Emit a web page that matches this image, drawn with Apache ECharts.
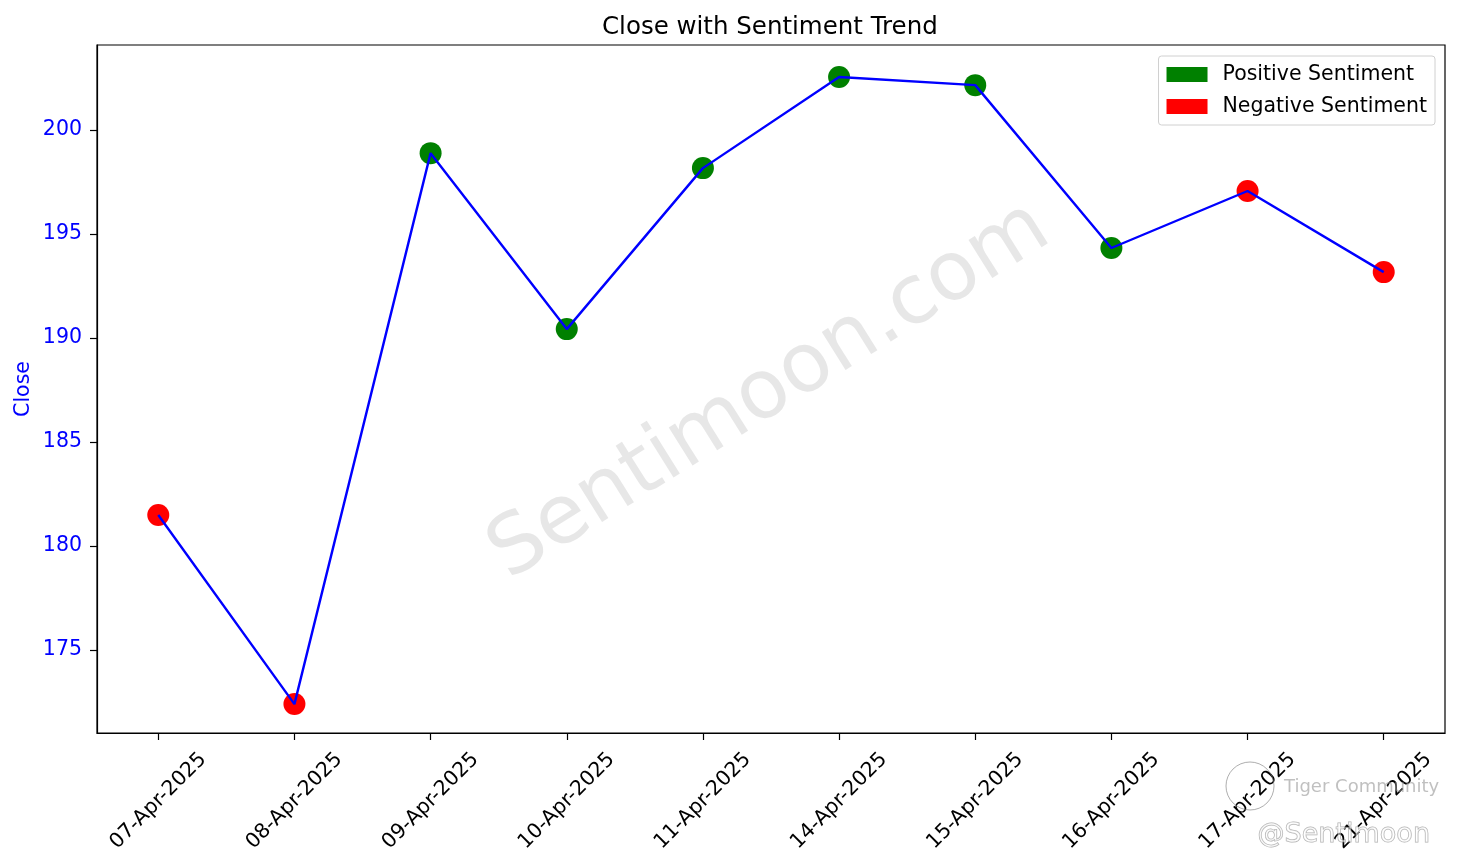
<!DOCTYPE html>
<html>
<head>
<meta charset="utf-8">
<script src="https://cdn.jsdelivr.net/npm/echarts@6/dist/echarts.min.js"></script>
<style>html,body{margin:0;padding:0;background:#fff}#c{width:1460px;height:868px}</style>
</head>
<body>
<div id="c"></div>
<script>
const dates = ['07-Apr-2025','08-Apr-2025','09-Apr-2025','10-Apr-2025','11-Apr-2025','14-Apr-2025','15-Apr-2025','16-Apr-2025','17-Apr-2025','21-Apr-2025'];
const closes = [181.49, 172.40, 198.89, 190.43, 198.17, 202.55, 202.16, 194.33, 197.07, 193.17];
const sentiment = ['Negative','Negative','Positive','Positive','Positive','Positive','Positive','Positive','Negative','Negative'];
const yTicks = [175, 180, 185, 190, 195, 200];

const idx = dates.map((d, i) => i);
const lineData = idx.map(i => [i, closes[i]]);
const posData = idx.filter(i => sentiment[i] === 'Positive').map(i => [i, closes[i]]);
const negData = idx.filter(i => sentiment[i] === 'Negative').map(i => [i, closes[i]]);

const FONT = 'DejaVu Sans';
const FS = 20.5;
const chart = echarts.init(document.getElementById('c'), null, {renderer: 'canvas'});
chart.setOption({
  animation: false,
  backgroundColor: '#fff',
  textStyle: {fontFamily: FONT},
  title: {
    text: 'Close with Sentiment Trend', left: 597, top: 10,
    textStyle: {fontFamily: FONT, fontSize: 24.5, fontWeight: 'normal', color: '#000'}
  },
  grid: {left: 97, right: 15, top: 45, bottom: 135, outerBoundsMode: 'none', containLabel: false,
         show: true, borderColor: '#000', borderWidth: 1.2, backgroundColor: 'transparent'},
  legend: {
    orient: 'vertical', right: 25, top: 56,
    padding: [8, 8, 8, 8], itemGap: 11, itemWidth: 41, itemHeight: 15,
    borderColor: '#d0d0d0', borderWidth: 1, borderRadius: 3, backgroundColor: 'rgba(255,255,255,0.8)',
    icon: 'rect',
    textStyle: {fontFamily: FONT, fontSize: FS, color: '#000', padding: [0, 0, 0, 10]},
    data: ['Positive Sentiment', 'Negative Sentiment']
  },
  xAxis: {
    type: 'value', min: -0.45, max: 9.45,
    splitLine: {show: false},
    axisLine: {show: true, onZero: false, lineStyle: {color: '#000', width: 1.2}},
    axisTick: {show: true, length: 7, lineStyle: {color: '#000', width: 1.2}, customValues: idx},
    axisLabel: {
      customValues: idx, rotate: 45, margin: 68, fontSize: FS, color: '#000', fontFamily: FONT,
      align: 'center', verticalAlign: 'middle',
      formatter: v => dates[Math.round(v)]
    }
  },
  yAxis: {
    type: 'value', min: 171.01, max: 204.09,
    name: 'Close', nameLocation: 'middle', nameGap: 63, nameMoveOverlap: false,
    nameTextStyle: {color: 'blue', fontSize: FS, fontFamily: FONT},
    splitLine: {show: false},
    axisLine: {show: true, onZero: false, lineStyle: {color: '#000', width: 1.2}},
    axisTick: {show: true, length: 7, lineStyle: {color: '#000', width: 1.2}, customValues: yTicks},
    axisLabel: {customValues: yTicks, margin: 15, fontSize: FS, color: 'blue', fontFamily: FONT}
  },
  series: [
    {name: 'Positive Sentiment', type: 'scatter', data: posData, symbolSize: 22, itemStyle: {color: 'green', opacity: 1}, z: 2},
    {name: 'Negative Sentiment', type: 'scatter', data: negData, symbolSize: 22, itemStyle: {color: 'red', opacity: 1}, z: 2},
    {name: 'Close', type: 'line', data: lineData, showSymbol: false, symbol: 'none', lineStyle: {color: 'blue', width: 2.4}, z: 4}
  ],
  graphic: [
    {type: 'text', x: 770, y: 392, rotation: 32 * Math.PI / 180, z: 10,
     style: {text: 'Sentimoon.com', font: '82px "DejaVu Sans"', fill: 'rgba(160,160,160,0.25)', align: 'center', verticalAlign: 'middle'}},
    {type: 'circle', shape: {cx: 1250, cy: 786, r: 24}, z: 10, style: {fill: 'none', stroke: 'rgba(120,120,120,0.6)', lineWidth: 1}},
    {type: 'text', x: 1284, y: 787, z: 10,
     style: {text: 'Tiger Community', font: '18px "DejaVu Sans"', fill: 'rgba(150,150,150,0.6)', verticalAlign: 'middle'}},
    {type: 'text', x: 1430, y: 835, z: 10,
     style: {text: '@Sentimoon', font: '27px "DejaVu Sans"', fill: 'rgba(255,255,255,0.5)', stroke: 'rgba(120,120,120,0.6)', lineWidth: 1, align: 'right', verticalAlign: 'middle'}}
  ]
});
</script>
</body>
</html>
